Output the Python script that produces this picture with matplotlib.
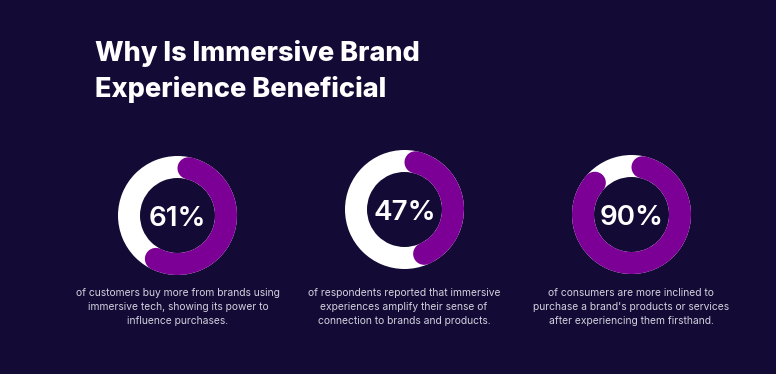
import numpy as np
import matplotlib
matplotlib.use("Agg")
import matplotlib.pyplot as plt
from matplotlib.patches import Wedge, Circle

# ---- data ----
title_lines = ["Why Is Immersive Brand", "Experience Beneficial"]
percentages = [61, 47, 90]
descriptions = [
    ["of customers buy more from brands using", "immersive tech, showing its power to", "influence purchases."],
    ["of respondents reported that immersive", "experiences amplify their sense of", "connection to brands and products."],
    ["of consumers are more inclined to", "purchase a brand's products or services", "after experiencing them firsthand."],
]

# ---- style ----
W, H = 776, 374
BG = "#130a35"
PURPLE = "#7c0096"
WHITE = "#ffffff"
DESC_COLOR = "#d2d2de"

fig = plt.figure(figsize=(W / 100, H / 100), dpi=100)
fig.patch.set_facecolor(BG)
ax = fig.add_axes([0, 0, 1, 1])
ax.set_xlim(0, W)
ax.set_ylim(0, H)
ax.set_facecolor(BG)
ax.axis("off")

def Y(yp):
    return H - yp

# title
for i, line in enumerate(title_lines):
    ax.text(95, Y(61 + 36 * i), line, color=WHITE, fontsize=19.5, fontweight=800,
            family="Inter", ha="left", va="baseline")

centers = [(177.5, 215.5), (404.5, 209.5), (631.5, 214.5)]
text_centers = [178, 404, 631]
r_out = 59.5
ring_w = 22.0
r_mid = r_out - ring_w / 2
cap_ang = np.degrees(np.arcsin((ring_w / 2) / r_mid))

for (cx, cy), pct, desc, tx in zip(centers, percentages, descriptions, text_centers):
    c = (cx, Y(cy))
    ax.add_patch(Wedge(c, r_out, 0, 360, width=ring_w, facecolor=WHITE, edgecolor="none"))
    start = 90 - cap_ang
    end = 90 - pct / 100 * 360 + cap_ang
    ax.add_patch(Wedge(c, r_out, end, start, width=ring_w, facecolor=PURPLE, edgecolor="none"))
    for a in (start, end):
        ax.add_patch(Circle((c[0] + r_mid * np.cos(np.radians(a)), c[1] + r_mid * np.sin(np.radians(a))),
                            ring_w / 2, facecolor=PURPLE, edgecolor="none"))
    ax.text(c[0], c[1] - 0.5, f"{pct}%", color=WHITE, fontsize=20, family="Inter",
            fontweight="semibold", ha="center", va="center_baseline")
    for i, line in enumerate(desc):
        ax.text(tx, Y(293 + 14.2 * i), line, color=DESC_COLOR, fontsize=7.4, family="Inter",
                ha="center", va="center")

fig.savefig("out.png", dpi=100, facecolor=BG)
